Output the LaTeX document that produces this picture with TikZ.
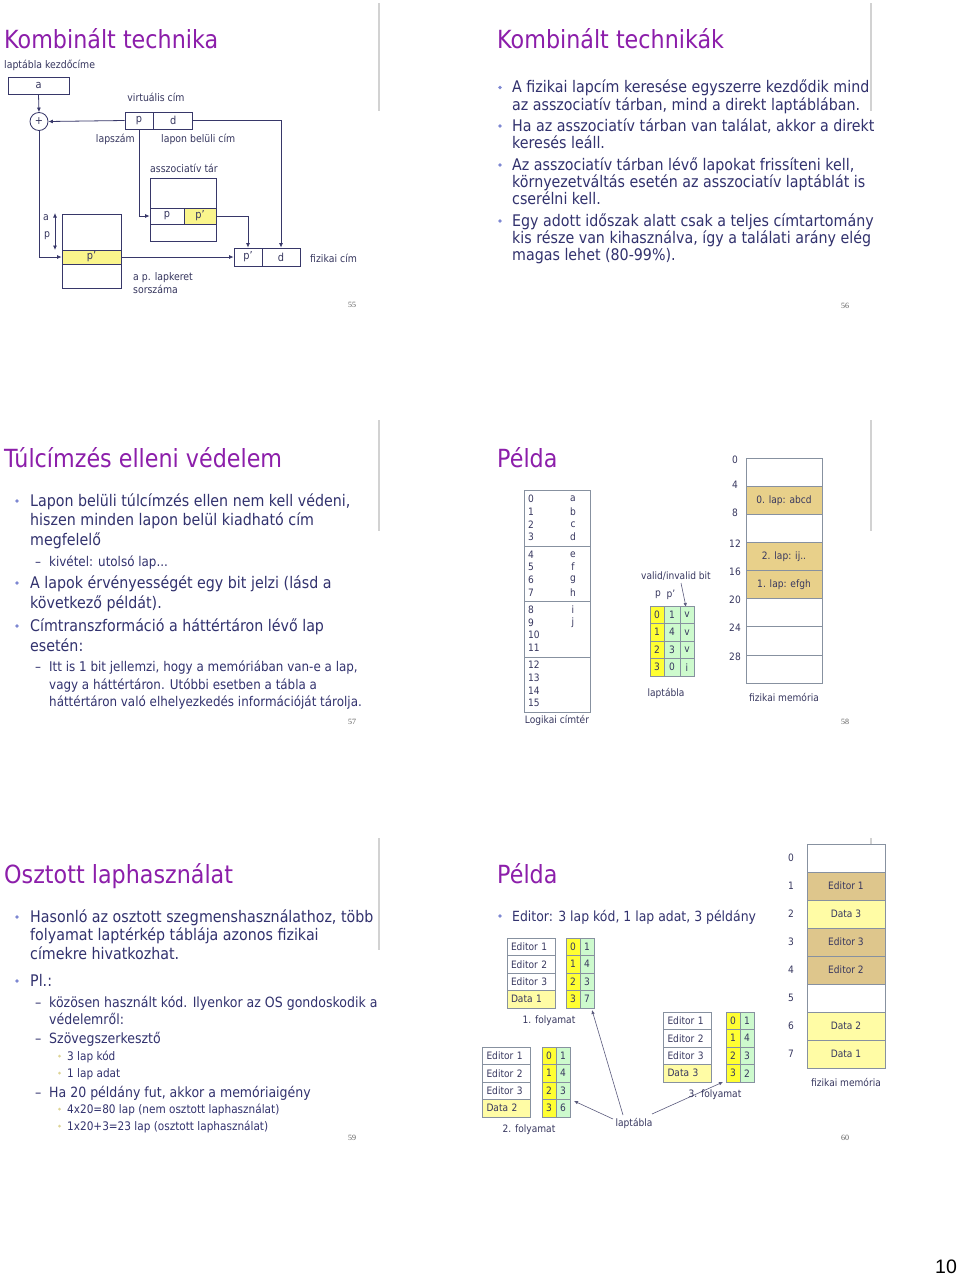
\documentclass[tikz,border=0pt]{standalone}
\usepackage{fontspec}
\setmainfont[FakeStretch=0.89]{DejaVu Sans}
\newfontfamily\numfont{Liberation Sans}
\newfontfamily\pgnfont{Liberation Serif}
\usetikzlibrary{arrows.meta}
\definecolor{ttlc}{RGB}{140,30,170}
\definecolor{bodyc}{RGB}{50,50,110}
\definecolor{bulc}{RGB}{125,135,210}
\definecolor{bulthr}{RGB}{222,212,150}
\definecolor{linec}{RGB}{55,55,105}
\definecolor{lblc}{RGB}{55,55,95}
\definecolor{cellc}{RGB}{135,145,160}
\definecolor{sepc}{RGB}{210,210,210}
\definecolor{yelc}{RGB}{250,245,140}
\definecolor{ybright}{RGB}{255,255,50}
\definecolor{gcell}{RGB}{205,250,205}
\definecolor{ylight}{RGB}{255,252,165}
\definecolor{tanc}{RGB}{232,208,138}
\definecolor{tantwo}{RGB}{222,198,140}
\definecolor{pgnc}{RGB}{90,90,90}
\definecolor{arrc}{RGB}{90,90,125}
\newcommand\pprime{p’}
\begin{document}
\begin{tikzpicture}[x=1pt,y=-1pt,
 ttl/.style={anchor=base west,inner sep=0,text=ttlc,font=\fontsize{25}{30}\selectfont},
 la/.style={anchor=base west,inner sep=0,text=bodyc,font=\fontsize{16}{19}\selectfont},
 lbs/.style={anchor=base west,inner sep=0,text=bodyc,font=\fontsize{13.4}{16}\selectfont},
 lbf/.style={anchor=base west,inner sep=0,text=bodyc,font=\fontsize{14.1}{17}\selectfont},
 lc/.style={anchor=base west,inner sep=0,text=bodyc,font=\fontsize{11.8}{14}\selectfont},
 lbl/.style={inner sep=0,text=lblc,font=\fontsize{10.5}{13}\selectfont},
 sm/.style={inner sep=0,text=lblc,font=\fontsize{10.2}{12}\selectfont},
 box/.style={draw=linec,line width=0.8pt,inner sep=0,text=lblc,font=\fontsize{11}{13}\selectfont},
 cell/.style={draw=cellc,line width=0.6pt,inner sep=0,text=lblc,font=\fontsize{10.2}{12}\selectfont},
 namecell/.style={cell,text width=40,inner xsep=4,inner ysep=0,minimum height=17.5,align=left},
 memcell/.style={draw=cellc,line width=0.6pt,inner sep=0,text=lblc,font=\fontsize{10.2}{12}\selectfont},
 arr/.style={draw=linec,line width=0.8pt,-{Latex[length=4.5pt,width=4pt]}},
 tarr/.style={draw=arrc,line width=0.6pt,-{Latex[length=4pt,width=3.5pt]}},
 pgn/.style={inner sep=0,text=pgnc,font=\pgnfont\fontsize{8}{9}\selectfont},
 sepline/.style={draw=sepc,line width=1.2pt}]
\useasboundingbox (0,0) rectangle (960,1285);
\fill[white] (0,0) rectangle (960,1285);

% ================= Slide 55 =================
\draw[sepline] (379,3) -- (379,111);
\node[ttl] (t1) at (4,48) {Kombinált technika};
\node[lbl,anchor=base west] (s1a) at (4,68) {laptábla kezdőcíme};
\node[box,minimum width=61,minimum height=17] (boxa) at (38.5,85.5) {a};
\node[circle,draw=linec,line width=0.8pt,minimum size=18,inner sep=0,text=lblc,font=\fontsize{11}{13}\selectfont] (plus) at (39,121.5) {+};
\node[lbl,anchor=base] (s1vc) at (156,101) {virtuális cím};
\node[box,minimum width=28,minimum height=17] (vp) at (139,120.5) {p};
\node[box,minimum width=39,minimum height=17,anchor=west] (vd) at (vp.east) {d};
\node[lbl,anchor=base east] (s1ls) at (135,142) {lapszám};
\node[lbl,anchor=base west] (s1lb) at (161,142) {lapon belüli cím};
\node[lbl,anchor=base west] (s1at) at (150,172) {asszociatív tár};
\node[box,minimum width=66,minimum height=63] (assoc) at (183,209.5) {};
\node[box,minimum width=34,minimum height=16] (ap) at (167,216) {p};
\node[box,fill=yelc,minimum width=32,minimum height=16] (aptwo) at (200,216) {\pprime};
\node[box,minimum width=59,minimum height=74] (pt) at (91.5,251) {};
\node[box,fill=yelc,minimum width=59,minimum height=14] (ptr) at (91.5,257) {\pprime};
\node[box,minimum width=28,minimum height=18] (fp) at (248,257) {\pprime};
\node[box,minimum width=38,minimum height=18] (fd) at (281,257) {d};
\node[lbl,anchor=base west] (s1fc) at (310,262) {fizikai cím};
\node[lbl,anchor=base west] (s1lka) at (133,280) {a p. lapkeret};
\node[lbl,anchor=base west] (s1lkb) at (133,293) {sorszáma};
\node[lbl,anchor=base] (s1aa) at (46,220) {a};
\node[lbl,anchor=base] (s1pp) at (47,237) {p};
\coordinate (daa) at (55,213);
\coordinate (dab) at (55,250);
\draw[draw=linec,line width=0.8pt,{Latex[length=4.5pt,width=4pt]}-{Latex[length=4.5pt,width=4pt]}] (daa) -- (dab);
\draw[arr] (boxa.south) -- (plus.north);
\draw[arr] (vp.west) -- (plus.east);
\draw[arr] (vd.east) -| (fd.north);
\draw[arr] (vp.south) |- (ap.west);
\draw[arr] (aptwo.east) -| (fp.north);
\draw[arr] (plus.south) |- (ptr.west);
\draw[arr] (ptr.east) -- (fp.west);
\node[pgn] (pn55) at (352,305) {55};

% ================= Slide 56 =================
\draw[sepline] (871,3) -- (871,111);
\node[ttl] (t2) at (497,48) {Kombinált technikák};
\foreach \yy/\txt [count=\i] in {
92.5/{A fizikai lapcím keresése egyszerre kezdődik mind},
110/{az asszociatív tárban, mind a direkt laptáblában.},
131/{Ha az asszociatív tárban van találat, akkor a direkt},
148.5/{keresés leáll.},
170/{Az asszociatív tárban lévő lapokat frissíteni kell,},
187/{környezetváltás esetén az asszociatív laptáblát is},
204.5/{cserélni kell.},
226/{Egy adott időszak alatt csak a teljes címtartomány},
243/{kis része van kihasználva, így a találati arány elég},
260.5/{magas lehet (80-99\%).}}
  {\node[la] (s2l\i) at (512,\yy) {\txt};}
\foreach \yy in {92.5,131,170,226} \fill[bulc] (500,{\yy-5}) circle (1.9);
\node[pgn] (pn56) at (845,306) {56};

% ================= Slide 57 =================
\draw[sepline] (379,420) -- (379,531);
\node[ttl] (t3) at (4,467) {Túlcímzés elleni védelem};
\foreach \yy/\txt [count=\i] in {
506/{Lapon belüli túlcímzés ellen nem kell védeni,},
525/{hiszen minden lapon belül kiadható cím},
545/{megfelelő},
588/{A lapok érvényességét egy bit jelzi (lásd a},
608/{következő példát).},
631/{Címtranszformáció a háttértáron lévő lap},
651/{esetén:}}
  {\node[la] (s3l\i) at (30,\yy) {\txt};}
\foreach \yy in {506,588,631} \fill[bulc] (17,{\yy-5}) circle (1.9);
\foreach \yy/\txt [count=\i] in {
566/{kivétel: utolsó lap...},
671/{Itt is 1 bit jellemzi, hogy a memóriában van-e a lap,},
689/{vagy a háttértáron. Utóbbi esetben a tábla a},
706/{háttértáron való elhelyezkedés információját tárolja.}}
  {\node[lbs] (s3m\i) at (49,\yy) {\txt};}
\node[lbs] (s3da) at (35,566) {–};
\node[lbs] (s3db) at (35,671) {–};
\node[pgn] (pn57) at (352,722) {57};

% ================= Slide 58 =================
\draw[sepline] (871,420) -- (871,531);
\node[ttl] (t4) at (497,467) {Példa};
\node[cell,minimum width=66,minimum height=222] (lcs) at (557,601) {};
\foreach \yy in {546,601,657} \draw[draw=cellc,line width=0.6pt] (524,\yy) -- (590,\yy);
\foreach \k in {0,...,3}{\foreach \i in {0,...,3}{%
  \pgfmathtruncatemacro\n{4*\k+\i}%
  \node[sm,anchor=west] (ln\n) at (528,{499+55.3*\k+12.7*\i}) {\n};}}
\foreach \n/\c in {0/a,1/b,2/c,3/d,4/e,5/f,6/g,7/h,8/i,9/j}{%
  \pgfmathtruncatemacro\kk{int(\n/4)}%
  \pgfmathtruncatemacro\ii{mod(\n,4)}%
  \node[sm] (lt\n) at (573,{499+55.3*\kk+12.7*\ii}) {\c};}
\node[sm] (lcst) at (557,720) {Logikai címtér};
\node[sm] (vib) at (676,576) {valid/invalid bit};
\node[sm] (hp) at (658,595) {p};
\node[sm] (hpp) at (671,595) {\pprime};
\coordinate (vaa) at (681,583);
\coordinate (vab) at (686,607);
\draw[tarr] (vaa) -- (vab);
\foreach \a/\b/\c [count=\r from 0] in {0/1/v,1/4/v,2/3/v,3/0/i}{%
  \node[cell,fill=ybright,minimum width=14,minimum height=17.5] (pa\r) at (657,{614.75+17.5*\r}) {\a};
  \node[cell,fill=gcell,minimum width=16,minimum height=17.5] (pb\r) at (672,{614.75+17.5*\r}) {\b};
  \node[cell,fill=gcell,minimum width=14,minimum height=17.5] (pc\r) at (687,{614.75+17.5*\r}) {\c};}
\node[sm] (ltab) at (666,693) {laptábla};
\foreach \j/\f/\t in {0/white/{},1/tanc/{0. lap: abcd},2/white/{},3/tanc/{2. lap: ij..},4/tanc/{1. lap: efgh},5/white/{},6/white/{},7/white/{}}
  {\node[memcell,fill=\f,minimum width=76,minimum height=28.125] (fm\j) at (784,{458+28.125*(\j+0.5)}) {\t};}
\foreach \v/\yy in {0/460,4/485,8/513,12/544,16/572,20/600,24/628,28/657}
  {\node[sm] (fl\v) at (735,\yy) {\v};}
\node[sm] (fmt) at (784,697) {fizikai memória};
\node[pgn] (pn58) at (845,722) {58};

% ================= Slide 59 =================
\draw[sepline] (379,838) -- (379,950);
\node[ttl] (t5) at (4,883) {Osztott laphasználat};
\foreach \yy/\txt [count=\i] in {
922/{Hasonló az osztott szegmenshasználathoz, több},
940/{folyamat laptérkép táblája azonos fizikai},
959/{címekre hivatkozhat.},
986/{Pl.:}}
  {\node[la] (s5l\i) at (30,\yy) {\txt};}
\foreach \yy in {922,986} \fill[bulc] (17,{\yy-5}) circle (1.9);
\foreach \yy/\txt [count=\i] in {
1007/{közösen használt kód. Ilyenkor az OS gondoskodik a},
1024/{védelemről:},
1043/{Szövegszerkesztő},
1097/{Ha 20 példány fut, akkor a memóriaigény}}
  {\node[lbf] (s5m\i) at (49,\yy) {\txt};}
\foreach \yy [count=\i] in {1007,1043,1097} \node[lbf] (s5d\i) at (35,\yy) {–};
\foreach \yy/\txt [count=\i] in {
1060/{3 lap kód},
1077/{1 lap adat},
1113/{4x20=80 lap (nem osztott laphasználat)},
1130/{1x20+3=23 lap (osztott laphasználat)}}
  {\node[lc] (s5n\i) at (67,\yy) {\txt};}
\foreach \yy in {1060,1077,1113,1130} \fill[bulthr] (59.5,{\yy-4}) circle (1.5);
\node[pgn] (pn59) at (352,1138) {59};

% ================= Slide 60 =================
\draw[sepline] (871,838) -- (871,950);
\node[ttl] (t6) at (497,883) {Példa};
\node[lbf,font=\fontsize{14}{17}\selectfont] (s6l) at (512,921) {Editor: 3 lap kód, 1 lap adat, 3 példány};
\fill[bulc] (500,916) circle (1.9);
% process tables
\foreach \pr/\nx/\ty/\ax/\bx/\dn/\last in {1/531/938/573/587/1/7, 2/506.5/1047/549/563/2/6, 3/687.5/1012/733/747/3/2}{%
  \foreach \nm/\fc/\a/\b [count=\r from 0] in {Editor 1/white/0/1,Editor 2/white/1/4,Editor 3/white/2/3,Data \dn/ylight/3/\last}{%
    \node[namecell,fill=\fc] (pn\pr n\r) at (\nx,{\ty+8.75+17.5*\r}) {\nm};
    \node[cell,fill=ybright,minimum width=14,minimum height=17.5] (pt\pr a\r) at (\ax,{\ty+8.75+17.5*\r}) {\a};
    \node[cell,fill=gcell,minimum width=14,minimum height=17.5] (pt\pr b\r) at (\bx,{\ty+8.75+17.5*\r}) {\b};}}
\node[sm] (fo1) at (549,1021) {1. folyamat};
\node[sm] (fo2) at (529,1130) {2. folyamat};
\node[sm] (ltb) at (634,1123) {laptábla};
\coordinate (aa1) at (623,1115);
\coordinate (ab1) at (592,1010);
\coordinate (aa2) at (613,1119);
\coordinate (ab2) at (574,1101);
\coordinate (aa3) at (652,1114);
\coordinate (ab3) at (723,1082);
\draw[tarr] (aa1) -- (ab1);
\draw[tarr] (aa2) -- (ab2);
\draw[tarr] (aa3) -- (ab3);
\node[sm] (fo3) at (715,1095) {3. folyamat};
% physical memory
\foreach \j/\f/\t in {0/white/{},1/tantwo/{Editor 1},2/ylight/{Data 3},3/tantwo/{Editor 3},4/tantwo/{Editor 2},5/white/{},6/ylight/{Data 2},7/ylight/{Data 1}}
  {\node[memcell,fill=\f,minimum width=78,minimum height=28] (gm\j) at (846,{858+28*\j}) {\t};
   \node[sm] (gl\j) at (791,{858+28*\j}) {\j};}
\node[sm] (gmt) at (846,1082) {fizikai memória};
\node[pgn] (pn60) at (845,1138) {60};

% page number
\node[inner sep=0,anchor=base,font=\numfont\fontsize{19.5}{22}\selectfont] (pg10) at (946,1273) {10};
\end{tikzpicture}
\end{document}
